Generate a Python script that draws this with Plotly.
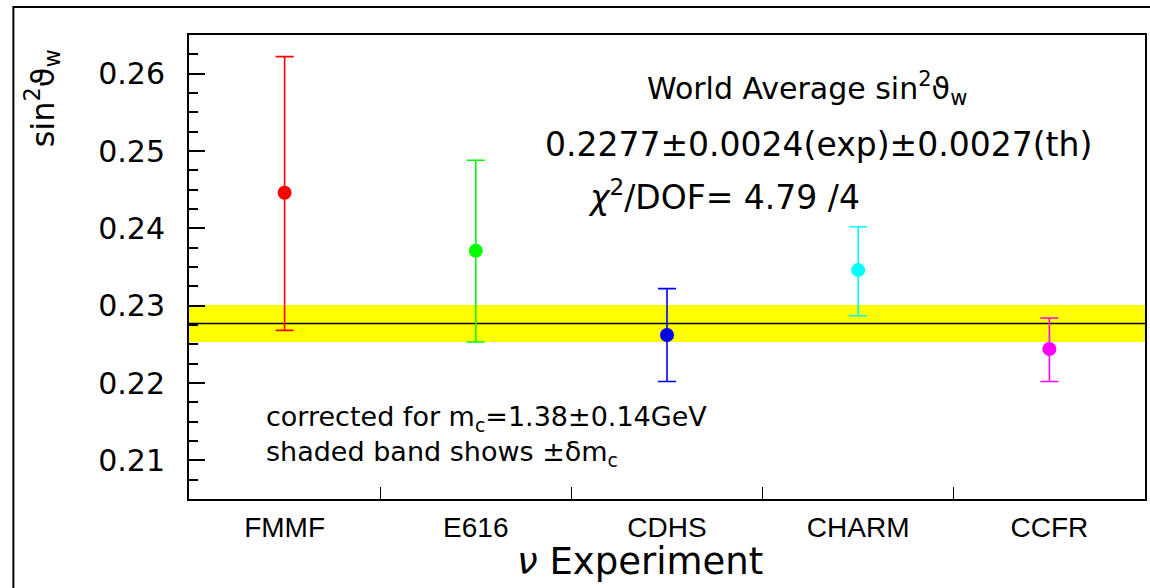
import plotly.graph_objects as go

# ---- data ----
experiments = ["FMMF", "E616", "CDHS", "CHARM", "CCFR"]
sin2w = [0.2446, 0.2371, 0.2262, 0.2346, 0.2244]
err_up = [0.0176, 0.0117, 0.0060, 0.0056, 0.0040]
err_down = [0.0178, 0.0118, 0.0060, 0.0059, 0.0042]
colors = ["#ff0000", "#00ff00", "#0000ff", "#00ffff", "#ff00ff"]
world_avg = 0.2277
band_err = 0.0024
y_ticks = [0.21, 0.22, 0.23, 0.24, 0.25, 0.26]

W, H = 1150, 588
L, R, T, B = 189, 1147, 35, 499


def px(x):
    return (x - L) / (R - L)


def py(y):
    return (B - y) / (B - T)


fig = go.Figure()

for name, v, up, dn, c in zip(experiments, sin2w, err_up, err_down, colors):
    fig.add_trace(go.Scatter(
        x=[name], y=[v], mode="markers",
        marker=dict(color=c, size=14, line=dict(width=0)),
        error_y=dict(type="data", symmetric=False, array=[up], arrayminus=[dn],
                     color=c, thickness=1.6, width=9),
        showlegend=False, cliponaxis=False,
    ))

# band and world average line
fig.add_hrect(y0=world_avg - band_err, y1=world_avg + band_err,
              fillcolor="#ffff00", line_width=0, layer="below")
fig.add_hline(y=world_avg, line=dict(color="black", width=1.6), layer="below")

# outer frame
fig.add_shape(type="rect", xref="paper", yref="paper",
              x0=px(13), x1=px(1165), y0=py(620), y1=py(7),
              line=dict(color="black", width=2), fillcolor="rgba(0,0,0,0)")

font_main = "DejaVu Sans"
ann = []
ann.append(dict(text="World Average sin<sup>2</sup>ϑ<sub>w</sub>", x=px(808), y=py(88),
                font=dict(size=30)))
ann.append(dict(text="0.2277±0.0024(exp)±0.0027(th)", x=px(820), y=py(144),
                font=dict(size=33)))
ann.append(dict(text="<i>χ</i><sup>2</sup>/DOF= 4.79 /4", x=px(725), y=py(196),
                font=dict(size=33)))
ann.append(dict(text="corrected for m<sub>c</sub>=1.38±0.14GeV<br>"
                     "shaded band shows ±δm<sub>c</sub>",
                x=px(264), y=py(436), xanchor="left", align="left",
                font=dict(size=27)))
ann.append(dict(text="<i>ν</i> Experiment", x=px(641), y=py(561),
                font=dict(size=37)))
ann.append(dict(text="sin<sup>2</sup>ϑ<sub>w</sub>", x=px(42), y=py(98),
                textangle=-90, font=dict(size=32)))

for a in ann:
    a.setdefault("xanchor", "center")
    a.update(xref="paper", yref="paper", showarrow=False, yanchor="middle")
    a["font"].update(family=font_main, color="black")
    fig.add_annotation(**a)

fig.update_layout(
    width=W, height=H,
    margin=dict(l=L, r=W - R, t=T, b=H - B, pad=0),
    paper_bgcolor="white", plot_bgcolor="white",
    font=dict(family=font_main, color="black"),
    xaxis=dict(
        type="category", categoryorder="array", categoryarray=experiments,
        range=[-0.5, 4.5], tickson="boundaries", ticks="inside", ticklen=12,
        tickwidth=1.2, tickcolor="black",
        showline=True, linecolor="black", linewidth=2, mirror=True,
        showgrid=False, zeroline=False,
        tickfont=dict(family="Liberation Sans", size=28, color="black"),
        ticklabelstandoff=2,
    ),
    yaxis=dict(
        range=[0.205, 0.265], tickvals=y_ticks, ticktext=[f"{t:.2f}" for t in y_ticks],
        ticks="inside", ticklen=16, tickwidth=1.5, tickcolor="black",
        minor=dict(dtick=0.0025, tick0=0.205, ticks="inside", ticklen=9,
                   tickwidth=1.5, tickcolor="black", showgrid=False),
        showline=True, linecolor="black", linewidth=2, mirror=True,
        showgrid=False, zeroline=False,
        tickfont=dict(family=font_main, size=30, color="black"),
        ticklabelstandoff=16,
    ),
)

fig.write_html("out.html")
